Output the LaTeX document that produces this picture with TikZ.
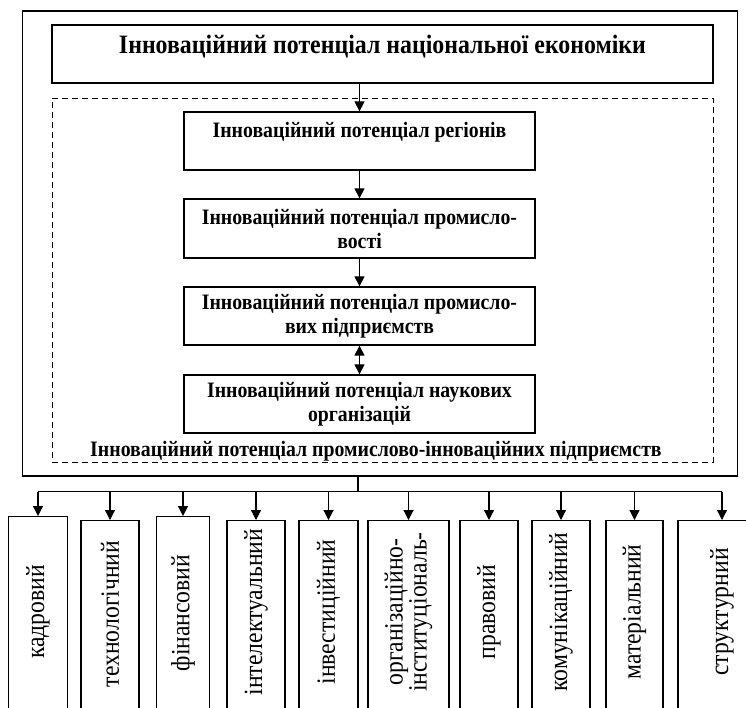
\documentclass[tikz,border=0pt]{standalone}
\usepackage{fontspec}
\setmainfont{Liberation Serif}
\newfontfamily\cond[FakeStretch=0.9]{Liberation Serif}
\usetikzlibrary{arrows.meta}
\begin{document}
\begin{tikzpicture}[x=1pt,y=-1pt,
  box/.style={draw,line width=1.3pt,inner sep=0pt,align=center},
  midbox/.style={box,minimum width=351pt,minimum height=58pt,font=\cond\fontsize{22}{24}\selectfont\bfseries},
  botbox/.style={box,minimum height=196pt},
  arr/.style={-{Triangle[length=10pt,width=10pt]},line width=1.2pt},
  dbl/.style={{Triangle[length=10pt,width=10pt]}-{Triangle[length=10pt,width=10pt]},line width=1.2pt},
  dashbox/.style={draw,line width=0.9pt,dash pattern=on 6pt off 4pt}]
\useasboundingbox (0,0) rectangle (746,707);
\clip (0,0) rectangle (746,707);
% outer frame
\node[box,minimum width=715pt,minimum height=465pt] (outer) at (380,243.5) {};
% top box
\node[box,minimum width=661pt,minimum height=58pt,font=\cond\fontsize{26.5}{26}\selectfont\bfseries] (top) at (382.5,54) {Інноваційний потенціал національної економіки\\[-7pt] ~};
% dashed region
\node[dashbox,minimum width=661pt,minimum height=364pt,inner sep=0pt] (dash) at (382.5,280) {};
\node[font=\cond\fontsize{22}{20}\selectfont\bfseries,inner sep=0pt] (dlab) at (376,451) {Інноваційний потенціал промислово-інноваційних підприємств};
% inner boxes
\node[midbox] (b1) at (359.5,141) {Інноваційний потенціал регіонів\\[-2pt] ~};
\node[midbox,minimum height=59pt] (b2) at (359.5,228.5) {Інноваційний потенціал промисло-\\вості};
\node[midbox] (b3) at (359.5,316) {Інноваційний потенціал промисло-\\вих підприємств};
\node[midbox] (b4) at (359.5,404) {Інноваційний потенціал наукових\\організацій};
\draw[arr] (top.south -| b1.north) -- (b1.north);
\draw[arr] (b1) -- (b2);
\draw[arr] (b2) -- (b3);
\draw[dbl] (b3) -- (b4);
% bottom boxes
\node[botbox,minimum width=59pt,anchor=north] (k1) at (38,516) {};
\node[botbox,minimum width=58pt,anchor=north] (k2) at (110,520) {};
\node[botbox,minimum width=53pt,anchor=north] (k3) at (183,516) {};
\node[botbox,minimum width=58pt,anchor=north] (k4) at (256,520) {};
\node[botbox,minimum width=59pt,anchor=north] (k5) at (328.5,520) {};
\node[botbox,minimum width=81pt,anchor=north] (k6) at (408.5,520) {};
\node[botbox,minimum width=58pt,anchor=north] (k7) at (489,520) {};
\node[botbox,minimum width=58pt,anchor=north] (k8) at (561,520) {};
\node[botbox,minimum width=57pt,anchor=north] (k9) at (634.5,520) {};
\node[botbox,minimum width=88pt,anchor=north] (k10) at (722,520) {};
\begin{scope}[every node/.style={rotate=90,font=\cond\fontsize{26.3}{22}\selectfont,inner sep=0pt,align=center}]
\node (t1) at (38,612) {кадровий};
\node (t2) at (110,614) {технологічний};
\node (t3) at (183,613) {фінансовий};
\node (t4) at (256,612) {інтелектуальний};
\node (t5) at (328.5,612) {інвестиційний};
\node (t6) at (408.5,612) {організаційно-\\інституціональ-};
\node (t7) at (489,612) {правовий};
\node (t8) at (561,612) {комунікаційний};
\node (t9) at (634.5,612) {матеріальний};
\node (t10) at (722,612) {структурний};
\end{scope}
% distribution lines
\coordinate (hub) at (358,491.5);
\draw[line width=1.2pt] (outer.south -| hub) -- (hub);
\draw[line width=1.2pt] (hub -| k1.north) -- (hub -| k10.north);
\foreach \k in {k1,k2,k3,k4,k5,k6,k7,k8,k9,k10}
  \draw[arr] (hub -| \k.north) -- (\k.north);
\end{tikzpicture}
\end{document}
